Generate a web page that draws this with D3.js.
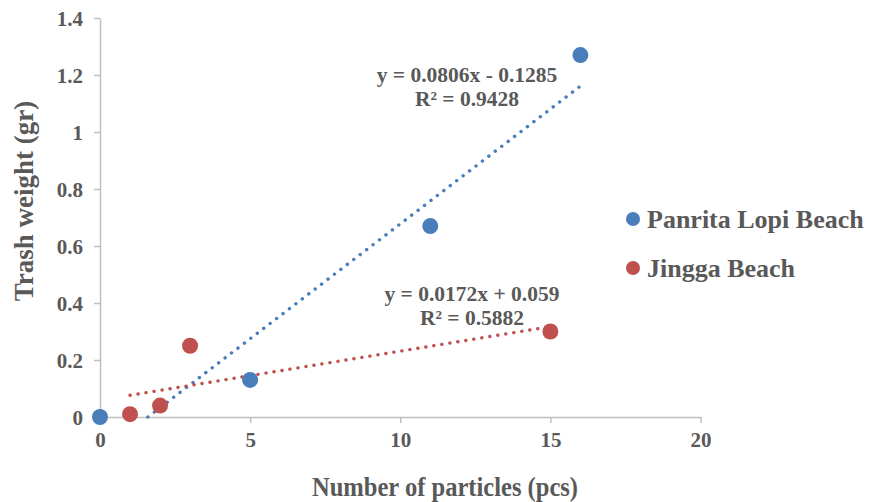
<!DOCTYPE html>
<html><head><meta charset="utf-8">
<script src="https://cdn.jsdelivr.net/npm/d3@7"></script>
<style>body{margin:0;background:#fff}</style>
</head><body>
<svg id="c" width="871" height="502"></svg>
<script>
const seriesNames = ["Panrita Lopi Beach", "Jingga Beach"];
const panritaX = [0, 5, 11, 16];
const panritaY = [0, 0.13, 0.67, 1.27];
const jinggaX = [1, 2, 3, 15];
const jinggaY = [0.01, 0.04, 0.25, 0.30];
const trendSlope = [0.0806, 0.0172];
const trendIntercept = [-0.1285, 0.059];
const equations = ["y = 0.0806x - 0.1285", "y = 0.0172x + 0.059"];
const rSquared = ["R² = 0.9428", "R² = 0.5882"];
const xTicks = [0, 5, 10, 15, 20];
const yTicks = [0, 0.2, 0.4, 0.6, 0.8, 1, 1.2, 1.4];
const colors = ["#4a7ebb", "#c0504d"];

const svg = d3.select("#c");
const font = "'Liberation Serif','Times New Roman',serif";
const grey = "#595959";
const x = d3.scaleLinear().domain([0, 20]).range([100, 700.5]);
const y = d3.scaleLinear().domain([0, 1.4]).range([417, 18]);

// axes
const yAxis = svg.append("g").attr("transform", "translate(100,0)")
  .call(d3.axisLeft(y).tickValues(yTicks).tickSize(6).tickSizeOuter(0).tickFormat(d => String(d)));
const xAxis = svg.append("g").attr("transform", "translate(0,417)")
  .call(d3.axisBottom(x).tickValues(xTicks).tickSize(6).tickSizeOuter(0));
[yAxis, xAxis].forEach(a => {
  a.selectAll("path, line").attr("stroke", "#bfbfbf").attr("stroke-width", 1.5);
  a.selectAll("text").attr("fill", grey).attr("font-family", font)
    .attr("font-weight", "bold").attr("font-size", 21);
});
yAxis.selectAll("text").attr("x", -17).attr("dy", "0.34em");
xAxis.selectAll("text").attr("y", 30).attr("dy", 0);

// axis titles
svg.append("text").attr("x", 445).attr("y", 496).attr("text-anchor", "middle")
  .attr("font-family", font).attr("font-weight", "bold").attr("font-size", 27).attr("fill", grey)
  .attr("textLength", 266).attr("lengthAdjust", "spacingAndGlyphs")
  .text("Number of particles (pcs)");
svg.append("text").attr("transform", "translate(33,201) rotate(-90)").attr("text-anchor", "middle")
  .attr("font-family", font).attr("font-weight", "bold").attr("font-size", 27).attr("fill", grey)
  .text("Trash weight (gr)");

const series = [
  {xs: panritaX, ys: panritaY},
  {xs: jinggaX, ys: jinggaY}
];

// trendlines
series.forEach((s, i) => {
  const m = trendSlope[i], b = trendIntercept[i];
  let x0 = d3.min(s.xs), x1 = d3.max(s.xs);
  if (m * x0 + b < 0) x0 = -b / m;
  svg.append("line")
    .attr("x1", x(x0)).attr("y1", y(m * x0 + b))
    .attr("x2", x(x1)).attr("y2", y(m * x1 + b))
    .attr("stroke", colors[i]).attr("stroke-width", 3.4)
    .attr("stroke-linecap", "round").attr("stroke-dasharray", "0.1 8");
});

// points
series.forEach((s, i) => {
  svg.append("g").selectAll("circle").data(s.xs.map((v, k) => [v, s.ys[k]]))
    .join("circle").attr("cx", d => x(d[0])).attr("cy", d => y(d[1]))
    .attr("r", 8).attr("fill", colors[i]);
});

// equation labels
const eqPos = [[467, 82, 106], [472, 301, 325]];
eqPos.forEach((p, i) => {
  [equations[i], rSquared[i]].forEach((t, k) => {
    svg.append("text").attr("x", p[0]).attr("y", k ? p[2] : p[1]).attr("text-anchor", "middle")
      .attr("font-family", font).attr("font-weight", "bold").attr("font-size", 21.5).attr("fill", grey)
      .text(t);
  });
});

// legend
seriesNames.forEach((n, i) => {
  const ly = 219 + i * 49;
  svg.append("circle").attr("cx", 633).attr("cy", ly).attr("r", 7).attr("fill", colors[i]);
  svg.append("text").attr("x", 647).attr("y", ly + 9)
    .attr("font-family", font).attr("font-weight", "bold").attr("font-size", 26).attr("fill", grey)
    .text(n);
});
</script>
</body></html>
